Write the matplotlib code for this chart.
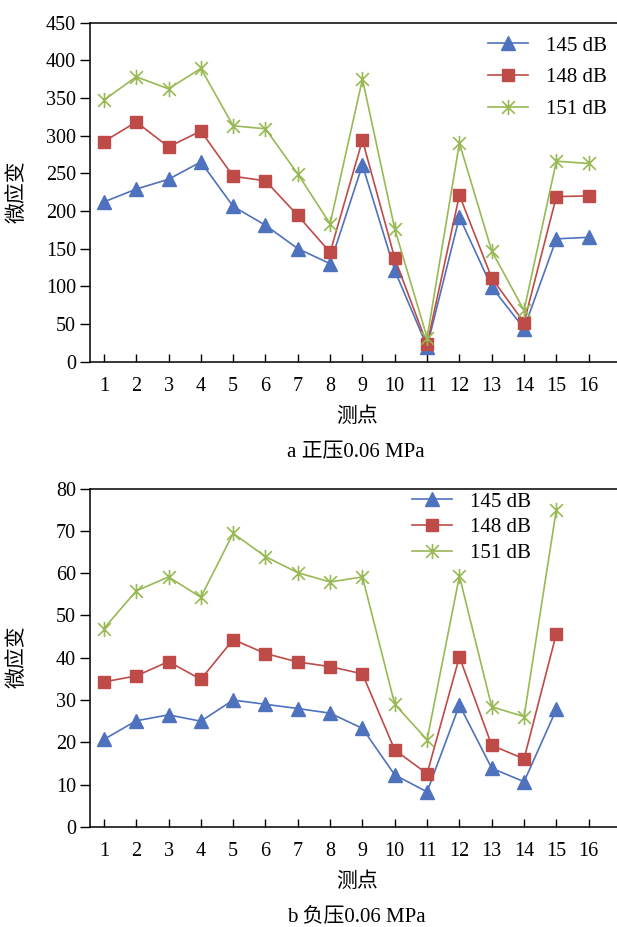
import matplotlib
matplotlib.use("Agg")
import matplotlib.pyplot as plt
from matplotlib.path import Path
import numpy as np

plt.rcParams['font.family'] = ['Liberation Serif', 'Noto Sans CJK SC', 'DejaVu Sans']

points = list(range(1, 17))
tick_labels = [str(i) for i in points]
series_labels = ['145 dB', '148 dB', '151 dB']

# Panel a: positive pressure 0.06 MPa
a_145 = [212, 229, 242, 265, 206, 181, 150, 130, 261, 121, 20, 192, 99, 44, 163, 165]
a_148 = [292, 318, 285, 306, 246, 240, 194, 145, 294, 137, 23, 221, 111, 52, 219, 220]
a_151 = [347, 378, 362, 389, 313, 309, 249, 183, 375, 176, 32, 290, 147, 68, 266, 263]

# Panel b: negative pressure 0.06 MPa (point 16 has no data)
b_points = list(range(1, 16))
b_145 = [20.7, 25.1, 26.5, 25.0, 30.0, 29.0, 28.0, 26.9, 23.3, 12.3, 8.3, 28.8, 13.9, 10.7, 27.8]
b_148 = [34.3, 35.7, 39.1, 34.9, 44.3, 41.0, 39.0, 37.9, 36.2, 18.2, 12.6, 40.2, 19.3, 16.1, 45.7]
b_151 = [46.9, 55.8, 59.1, 54.3, 69.4, 63.9, 60.1, 57.9, 59.1, 29.0, 20.6, 59.3, 28.4, 26.1, 75.0]

colors = ['#4F72BE', '#BE4B48', '#98B954']

# asterisk marker (x with vertical bar)
s = 0.5
ast = Path([(-s, -s), (s, s), (-s, s), (s, -s), (0, -0.6), (0, 0.6)],
           [Path.MOVETO, Path.LINETO, Path.MOVETO, Path.LINETO, Path.MOVETO, Path.LINETO])

W, H = 617, 927
fig = plt.figure(figsize=(W / 100, H / 100), dpi=100)

def make_axes(top_px, bottom_px):
    left, right = 90, 621
    return fig.add_axes([left / W, (H - bottom_px) / H, (right - left) / W, (bottom_px - top_px) / H])

ax1 = make_axes(22.5, 361.7)
ax2 = make_axes(488.5, 827)

FS = 14.5

def style(ax, ymax, ystep):
    ax.set_xlim(0.57, 17.0)
    ax.set_ylim(0, ymax)
    ax.set_xticks(points)
    ax.set_xticklabels(tick_labels)
    ax.set_yticks(np.arange(0, ymax + 0.1, ystep))
    ax.tick_params(axis='x', direction='in', length=6, width=1, pad=11, labelsize=FS)
    ax.tick_params(axis='y', direction='out', length=7, width=1, pad=3, labelsize=FS)
    for sp in ax.spines.values():
        sp.set_linewidth(1.1)
    ax.spines['right'].set_visible(False)

def draw(ax, xs, ys_list):
    l1, = ax.plot(xs, ys_list[0], color=colors[0], lw=1.2, marker='^', ms=10,
                  mec=colors[0], mfc=colors[0], label=series_labels[0])
    l2, = ax.plot(xs, ys_list[1], color=colors[1], lw=1.2, marker='s', ms=9,
                  mec=colors[1], mfc=colors[1], label=series_labels[1])
    l3, = ax.plot(xs, ys_list[2], color=colors[2], lw=1.2, marker=ast, ms=11,
                  mec=colors[2], mfc='none', mew=1.2, label=series_labels[2])
    return [l1, l2, l3]

draw(ax1, points, [a_145, a_148, a_151])
draw(ax2, b_points, [b_145, b_148, b_151])
style(ax1, 450, 50)
style(ax2, 80, 10)

ax1.legend(loc='upper left', bbox_to_anchor=((488 - 90) / 531, 1 - (36 - 22.5) / 339),
           frameon=False, fontsize=15, handlelength=1.9, handletextpad=0.9,
           labelspacing=0.58, borderaxespad=0, borderpad=0)
ax2.legend(loc='upper left', bbox_to_anchor=((412 - 90) / 531, 1 - (492 - 488.5) / 338.5),
           frameon=False, fontsize=15, handlelength=1.9, handletextpad=0.9,
           labelspacing=0.3, borderaxespad=0, borderpad=0)

# axis titles and captions
fig.text(18 / W, 1 - 192 / H, '微应变', rotation=90, ha='center', va='center', fontsize=15)
fig.text(18 / W, 1 - 657 / H, '微应变', rotation=90, ha='center', va='center', fontsize=15)
fig.text(357 / W, 1 - 417 / H, '测点', ha='center', va='center', fontsize=15)
fig.text(357 / W, 1 - 882 / H, '测点', ha='center', va='center', fontsize=15)
fig.text(356 / W, 1 - 453 / H, 'a 正压0.06 MPa', ha='center', va='center', fontsize=15)
fig.text(356 / W, 1 - 917 / H, 'b 负压0.06 MPa', ha='center', va='center', fontsize=15)

fig.savefig('out.png', dpi=100)
